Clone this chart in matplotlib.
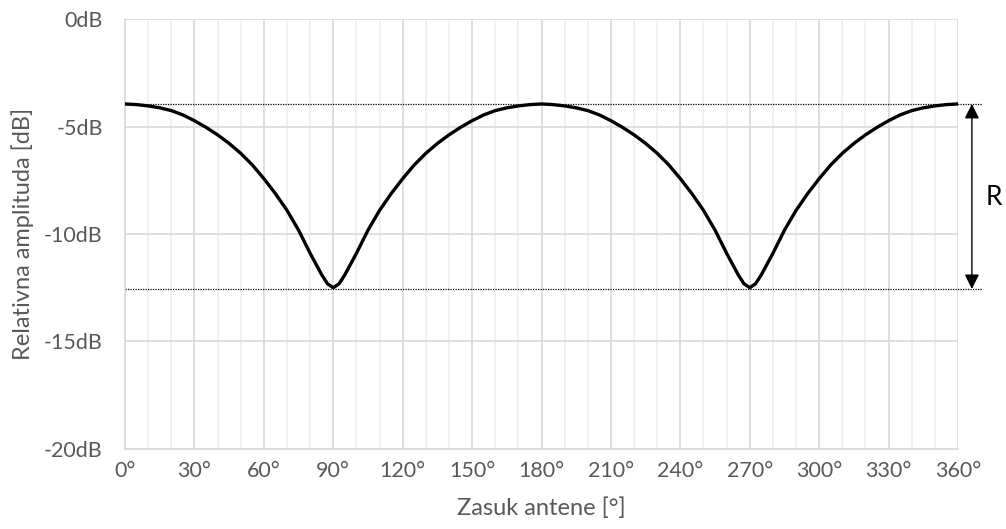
import matplotlib
matplotlib.use("Agg")
import matplotlib.pyplot as plt
from matplotlib.ticker import MultipleLocator, FuncFormatter

plt.rcParams["font.family"] = ["Lato", "DejaVu Sans"]

# values (degrees, dB)
angles = [0, 5, 10, 15, 20, 25, 30, 35, 40, 45, 50, 55, 60, 65, 70, 75, 80, 85,
          87.5, 90, 92.5, 95, 100, 105, 110, 115, 120, 125, 130, 135, 140, 145,
          150, 155, 160, 165, 170, 175, 180, 185, 190, 195, 200, 205, 210, 215,
          220, 225, 230, 235, 240, 245, 250, 255, 260, 265, 267.5, 270, 272.5,
          275, 280, 285, 290, 295, 300, 305, 310, 315, 320, 325, 330, 335, 340,
          345, 350, 355, 360]
amplitude = [-3.94, -3.97, -4.03, -4.12, -4.25, -4.45, -4.72, -5.03, -5.38, -5.78,
             -6.24, -6.78, -7.42, -8.12, -8.90, -9.82, -10.90, -11.90,
             -12.32, -12.50, -12.32, -11.90, -10.90, -9.82, -8.90, -8.12, -7.42,
             -6.78, -6.24, -5.78, -5.38, -5.03, -4.72, -4.45, -4.25, -4.12, -4.03,
             -3.97, -3.94, -3.97, -4.03, -4.12, -4.25, -4.45, -4.72, -5.03, -5.38,
             -5.78, -6.24, -6.78, -7.42, -8.12, -8.90, -9.82, -10.90, -11.90,
             -12.32, -12.50, -12.32, -11.90, -10.90, -9.82, -8.90, -8.12, -7.42,
             -6.78, -6.24, -5.78, -5.38, -5.03, -4.72, -4.45, -4.25, -4.12, -4.03,
             -3.97, -3.94]
r_max = -3.94
r_min = -12.56

grey = "#595959"

fig = plt.figure(figsize=(10.06, 5.29), dpi=100)
ax = fig.add_axes([0.1243, 0.152, 0.828, 0.8113])

ax.set_xlim(0, 360)
ax.set_ylim(-20, 0)
ax.xaxis.set_major_locator(MultipleLocator(30))
ax.xaxis.set_minor_locator(MultipleLocator(10))
ax.yaxis.set_major_locator(MultipleLocator(5))
ax.xaxis.set_major_formatter(FuncFormatter(lambda v, p: f"{v:.0f}°"))
ax.yaxis.set_major_formatter(FuncFormatter(lambda v, p: f"{v:.0f}dB"))

ax.grid(which="major", color="#d9d9d9", linewidth=1.2)
ax.grid(which="minor", axis="x", color="#efefef", linewidth=1.2)
ax.set_axisbelow(True)
for side in ["top", "right"]:
    ax.spines[side].set_visible(False)
for side in ["left", "bottom"]:
    ax.spines[side].set_color("#d9d9d9")
    ax.spines[side].set_linewidth(1.2)

ax.tick_params(which="both", length=0, labelsize=15.5, colors=grey)
ax.tick_params(axis="y", pad=16)
ax.tick_params(axis="x", pad=9)

ax.set_xlabel("Zasuk antene [°]", fontsize=17, color=grey, labelpad=12)
ax.set_ylabel("Relativna amplituda [dB]", fontsize=17, color=grey, labelpad=7)

# reference lines and range arrow
for level in [r_max, r_min]:
    ax.plot([0, 370.5], [level, level], color="black", linestyle=(0, (1, 1)),
            linewidth=0.9, clip_on=False)
ax.annotate("", xy=(366, r_max), xytext=(366, r_min),
            arrowprops=dict(arrowstyle="<|-|>", color="black", lw=1.0,
                            mutation_scale=22, shrinkA=0, shrinkB=0),
            annotation_clip=False)
ax.text(375.5, (r_max + r_min) / 2 - 0.05, "R", fontsize=19, color="black",
        ha="center", va="center", clip_on=False)

ax.plot(angles, amplitude, color="black", linewidth=2.4, solid_capstyle="round",
        solid_joinstyle="round", zorder=3)

fig.savefig("out.png", dpi=100)
